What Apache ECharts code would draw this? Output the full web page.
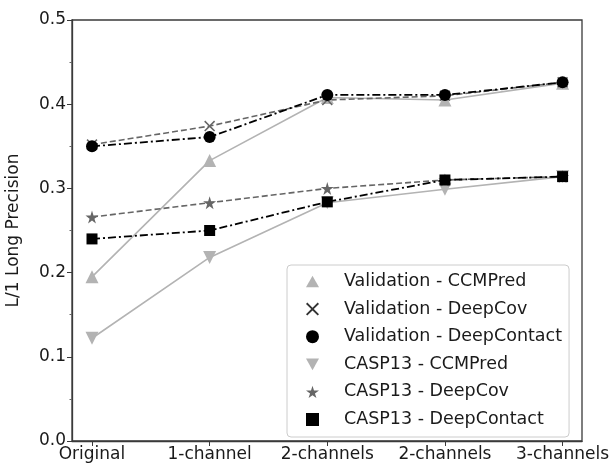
<!DOCTYPE html>
<html><head><meta charset="utf-8">
<script src="https://cdn.jsdelivr.net/npm/echarts@6/dist/echarts.min.js"></script>
<style>html,body{margin:0;padding:0;background:#fff}#c{width:612px;height:469px}</style>
</head><body><div id="c"></div>
<script>
const categories = ['Original', '1-channel', '2-channels', '2-channels', '3-channels'];
const yTicks = [0.0, 0.1, 0.2, 0.3, 0.4, 0.5];
const seriesNames = ['Validation - CCMPred','Validation - DeepCov','Validation - DeepContact','CASP13 - CCMPred','CASP13 - DeepCov','CASP13 - DeepContact'];
const valCCMPred = [0.195, 0.333, 0.408, 0.405, 0.425];
const valDeepCov = [0.352, 0.374, 0.405, 0.410, 0.426];
const valDeepContact = [0.350, 0.361, 0.411, 0.411, 0.426];
const caspCCMPred = [0.122, 0.218, 0.283, 0.299, 0.314];
const caspDeepCov = [0.266, 0.283, 0.300, 0.310, 0.314];
const caspDeepContact = [0.240, 0.250, 0.284, 0.310, 0.314];

const FONT = 'DejaVu Sans';
const LIGHT = '#b3b3b3', MID = '#666666', DARK = '#000000';
const X_SYM = 'path://M1,0L5,4L9,0L10,1L6,5L10,9L9,10L5,6L1,10L0,9L4,5L0,1Z';
const STAR = 'path://M50,0L61,35L98,35L68,57L79,91L50,70L21,91L32,57L2,35L39,35Z';
const DOWN = 'path://M0,0L10,0L5,9Z';
const UP = 'path://M5,0L10,9L0,9Z';

function pts(arr){ return arr.map((v,i)=>[i,v]); }
function mk(name, data, color, lineType, symbol, size, width){
  return {name, type:'line', data:pts(data), symbol, symbolSize:size, showSymbol:true,
    lineStyle:{color, width, type:lineType}, itemStyle:{color, borderWidth:0}, z:3};
}
const series = [
  mk(seriesNames[0], valCCMPred, LIGHT, 'solid', UP, 13, 1.6),
  mk(seriesNames[1], valDeepCov, MID, [6,3], X_SYM, 11, 1.6),
  mk(seriesNames[2], valDeepContact, DARK, [8,3,2,3], 'circle', 12, 1.8),
  mk(seriesNames[3], caspCCMPred, LIGHT, 'solid', DOWN, 13, 1.6),
  mk(seriesNames[4], caspDeepCov, MID, [6,3], STAR, 13, 1.6),
  mk(seriesNames[5], caspDeepContact, DARK, [8,3,2,3], 'rect', 11, 1.8)
];
const icons = [UP, X_SYM, 'circle', DOWN, STAR, 'rect'];
const iconColors = [LIGHT, '#333', DARK, LIGHT, MID, DARK];

const chart = echarts.init(document.getElementById('c'), null, {renderer:'canvas'});
chart.setOption({
  animation:false,
  backgroundColor:'#fff',
  grid:{left:72, right:30, top:20, bottom:28, show:true, borderColor:'#3a3a3a', borderWidth:1.3, backgroundColor:'transparent', outerBoundsMode:'none'},
  xAxis:{type:'value', min:-0.17, max:4.165,
    axisLine:{show:true, onZero:false, lineStyle:{color:'#3a3a3a', width:1.3}},
    axisTick:{show:true, length:5, lineStyle:{color:'#3a3a3a'}, customValues:[0,1,2,3,4]},
    axisLabel:{customValues:[0,1,2,3,4], formatter:v=>categories[Math.round(v)], color:'#1a1a1a', fontSize:17, fontFamily:FONT, margin:5},
    splitLine:{show:false}},
  yAxis:{type:'value', min:0, max:0.5, interval:0.1, name:'L/1 Long Precision', nameLocation:'middle', nameGap:50,
    nameTextStyle:{color:'#1a1a1a', fontSize:17, fontFamily:FONT},
    axisLine:{show:true, onZero:false, lineStyle:{color:'#3a3a3a', width:1.3}},
    axisTick:{show:true, length:5, lineStyle:{color:'#3a3a3a'}},
    minorTick:{show:true, splitNumber:2, length:2.5, lineStyle:{color:'#666'}},
    axisLabel:{formatter:v=>v.toFixed(1), color:'#1a1a1a', fontSize:17, fontFamily:FONT, margin:6},
    splitLine:{show:false}},
  legend:{orient:'vertical', left:287, top:265,
    data:seriesNames.map((n,i)=>({name:n, icon:icons[i], itemStyle:{color:iconColors[i]}})),
    itemWidth:13, itemHeight:13, itemGap:9.6,
    padding:[7.5,7,8.5,19],
    borderColor:'#cccccc', borderWidth:1, borderRadius:4, backgroundColor:'rgba(255,255,255,0.85)',
    textStyle:{color:'#1a1a1a', fontSize:17.5, lineHeight:17, fontFamily:FONT, padding:[0,0,0,20]}},
  series
});
</script></body></html>
